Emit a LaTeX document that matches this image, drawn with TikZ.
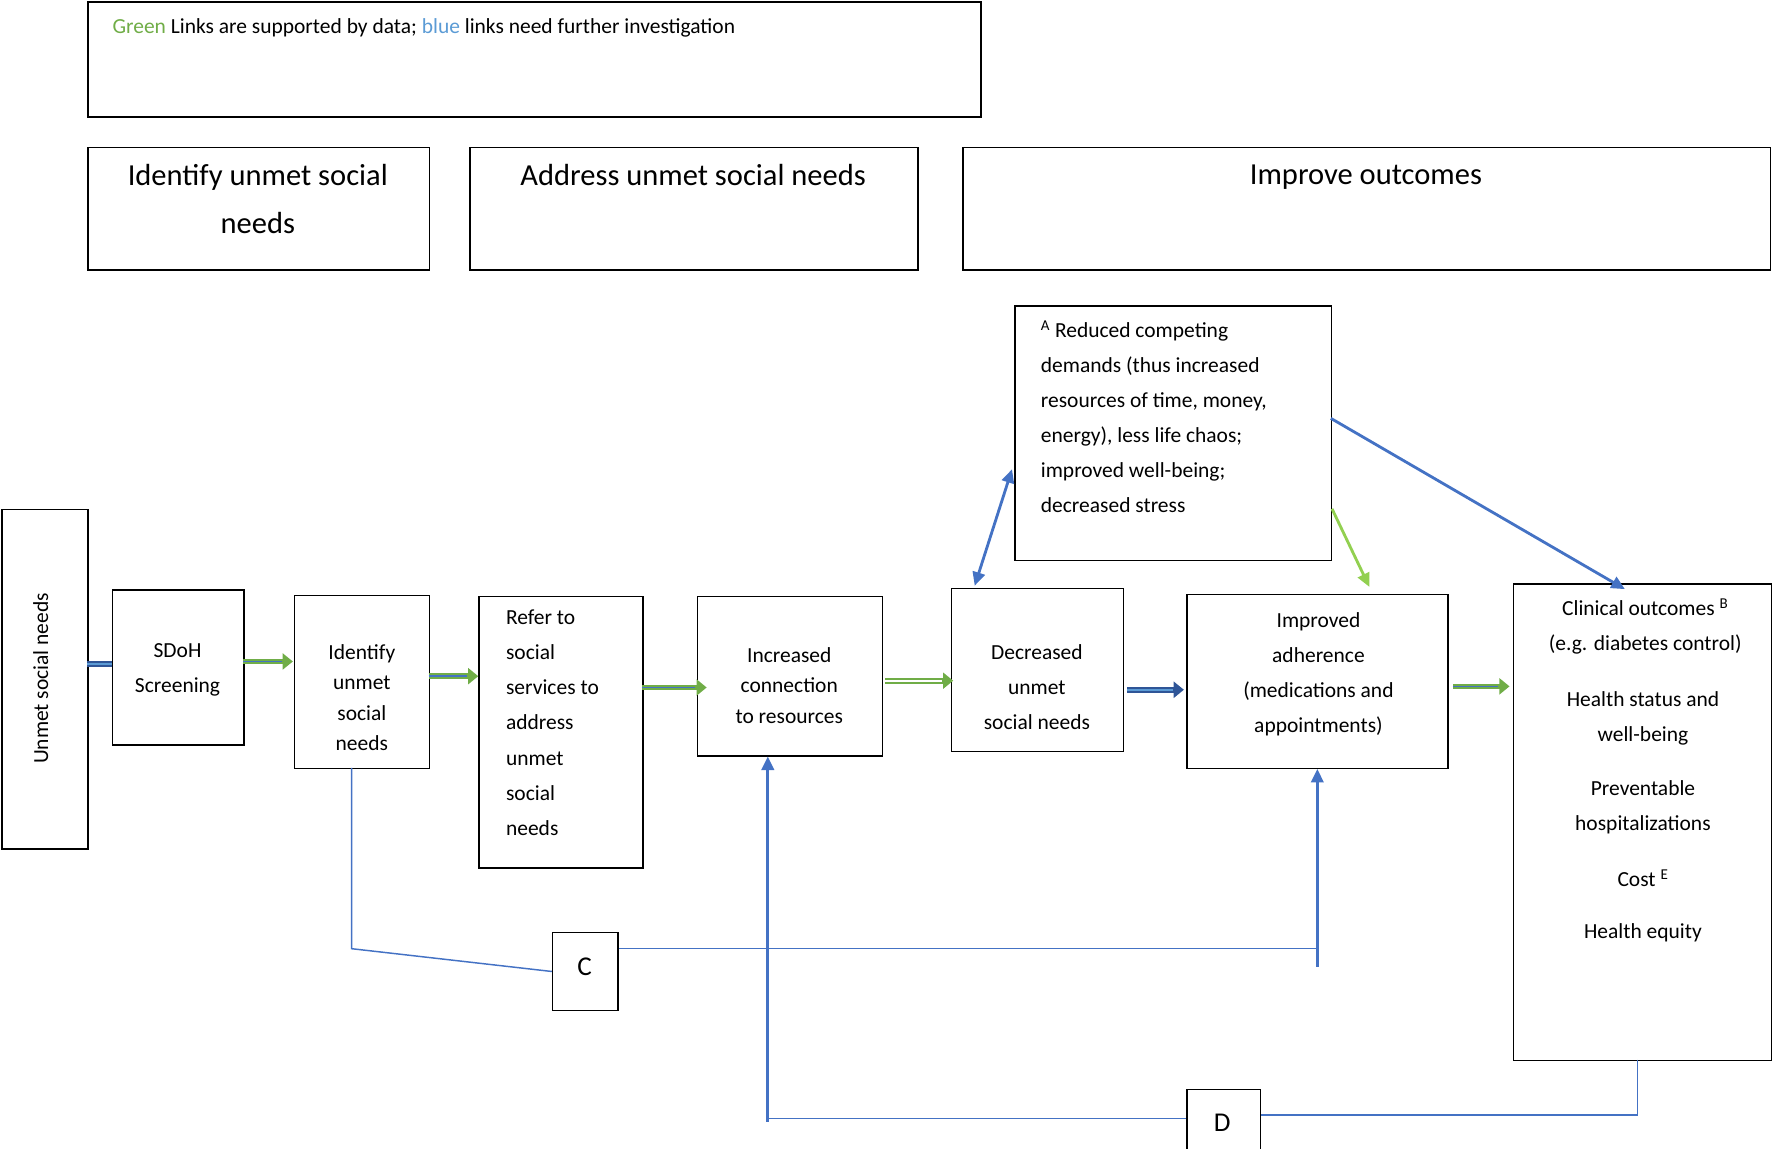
\documentclass[tikz,border=0pt]{standalone}
\usepackage{fontspec}
\setmainfont{Carlito}
\usetikzlibrary{arrows.meta}
\definecolor{gr}{RGB}{112,173,71}
\definecolor{lg}{RGB}{146,208,80}
\definecolor{bl}{RGB}{68,114,196}
\definecolor{db}{RGB}{47,85,151}
\definecolor{lb}{RGB}{91,155,213}
\begin{document}
\begin{tikzpicture}[x=1pt,y=-1pt,
 box/.style={draw,line width=1.3pt,inner sep=0pt},
 body/.style={font=\fontsize{19}{31}\selectfont,align=center},
 head/.style={font=\fontsize{27}{42}\selectfont,align=center},
 garrow/.style={draw=gr,line width=5pt,-{Triangle[length=9pt,width=14pt]}},
 ginner/.style={draw=bl,line width=1.4pt},
 darrow/.style={draw=db,line width=5pt,-{Triangle[length=9pt,width=14pt]}},
 dinner/.style={draw=lb,line width=1.4pt},
 bline/.style={draw=bl,line width=1.3pt},
 barrow/.style={draw=bl,line width=2.5pt,-{Triangle[length=12pt,width=11pt]}}]
\useasboundingbox (0,0) rectangle (1568,1016);
\node[box,minimum width=790,minimum height=102,anchor=north west] (leg) at (77,1) {};
\node[anchor=west,font=\fontsize{19}{24}\selectfont] (legt) at (96,25) {\textcolor{gr}{Green} Links are supported by data; \textcolor{lb}{blue} links need further investigation};
\node[box,minimum width=302,minimum height=108,anchor=north west] (h1) at (77,130) {};
\node[head,anchor=north] (h1t) at (228,142) {Identify unmet social\\needs};
\node[box,minimum width=396,minimum height=108,anchor=north west] (h2) at (415,130) {};
\node[head,anchor=north] (h2t) at (613,142) {Address unmet social needs};
\node[box,minimum width=714,minimum height=108,anchor=north west] (h3) at (851,130) {};
\node[head,anchor=north] (h3t) at (1208,142) {Improve outcomes};
\node[box,minimum width=76,minimum height=300,anchor=north west] (u) at (1,450) {};
\node[body,rotate=90] (ut) at (36,600) {Unmet social needs};
\node[box,minimum width=116,minimum height=137,anchor=north west] (s) at (99,521) {};
\node[body] at (157,592) {SDoH\\Screening};
\node[box,minimum width=119,minimum height=153,anchor=north west] (i) at (260,526) {};
\node[body,font=\fontsize{19}{27}\selectfont] at (320,617) {Identify\\unmet\\social\\needs};
\node[box,minimum width=145,minimum height=240,anchor=north west] (r) at (423,527) {};
\node[body,align=left,anchor=north west] at (444,536) {Refer to\\social\\services to\\address\\unmet\\social\\needs};
\node[box,minimum width=164,minimum height=141,anchor=north west] (inc) at (616,527) {};
\node[body,font=\fontsize{19}{27}\selectfont] at (698,606) {Increased\\connection\\to resources};
\node[box,minimum width=152,minimum height=144,anchor=north west] (dec) at (841,520) {};
\node[body] at (917,608) {Decreased\\unmet\\social needs};
\node[box,minimum width=231,minimum height=154,anchor=north west] (imp) at (1049,525) {};
\node[body] at (1166,596) {Improved\\adherence\\(medications and\\appointments)};
\node[box,minimum width=228,minimum height=421,anchor=north west] (cl) at (1338,516) {};
\node[body,anchor=north,font=\fontsize{19}{31}\selectfont] at (1455,526) {Clinical outcomes \textsuperscript{B}\\(e.g. diabetes control)};
\node[body] at (1453,635) {Health status and\\well-being};
\node[body] at (1453,714) {Preventable\\hospitalizations};
\node[body] at (1453,777) {Cost \textsuperscript{E}};
\node[body] at (1453,825) {Health equity};
\node[box,minimum width=280,minimum height=225,anchor=north west] (a) at (897,270) {};
\node[body,align=left,anchor=north west] at (917,280) {\textsuperscript{A} Reduced competing\\demands (thus increased\\resources of time, money,\\energy), less life chaos;\\improved well-being;\\decreased stress};
\node[box,minimum width=58,minimum height=69,anchor=north west] (c) at (488,824) {};
\node[body,font=\fontsize{24}{28}\selectfont] at (517,855) {C};
\node[box,minimum width=65,minimum height=53,anchor=north west] (d) at (1049,963) {};
\node[body,font=\fontsize{24}{28}\selectfont] at (1081,993) {D};
% fat arrows
\draw[draw=db,line width=5pt] (77,587) -- (99,587);
\draw[dinner] (77,587) -- (99,587);
\draw[garrow] (215,585) -- (259,585); \draw[ginner] (215,585) -- (249,585);
\draw[garrow] (379,598) -- (423,598); \draw[ginner] (379,598) -- (413,598);
\draw[garrow] (568,608) -- (625,608); \draw[ginner] (568,608) -- (615,608);
\draw[garrow] (783,602) -- (843,602); \draw[draw=white,line width=1.4pt] (783,602) -- (833,602);
\draw[darrow] (997,610) -- (1047,610); \draw[dinner] (997,610) -- (1037,610);
\draw[garrow] (1285,607) -- (1335,607); \draw[ginner] (1285,607) -- (1325,607);
% thin arrows
\draw[bl,line width=2.5pt,{Triangle[length=12pt,width=11pt]}-{Triangle[length=12pt,width=11pt]}] (862,518) -- (895,415);
\draw[bl,line width=2.5pt,-{Triangle[length=12pt,width=11pt]}] (1177,370) -- (1437,521);
\draw[lg,line width=2.5pt,-{Triangle[length=12pt,width=11pt]}] (1178,450) -- (1211,519);
% C loop
\draw[bline] (311,679) -- (311,839) -- (c.west);
\draw[bline] (c.east |- 0,839) -- (1165,839);
\draw[barrow] (1165,855) -- (1165,680);
% D loop
\draw[bline] (1448,937) -- (1448,986) -- (d.east |- 0,986);
\draw[bline] (d.west |- 0,989) -- (679,989);
\draw[barrow] (679,992) -- (679,669);
\end{tikzpicture}
\end{document}
